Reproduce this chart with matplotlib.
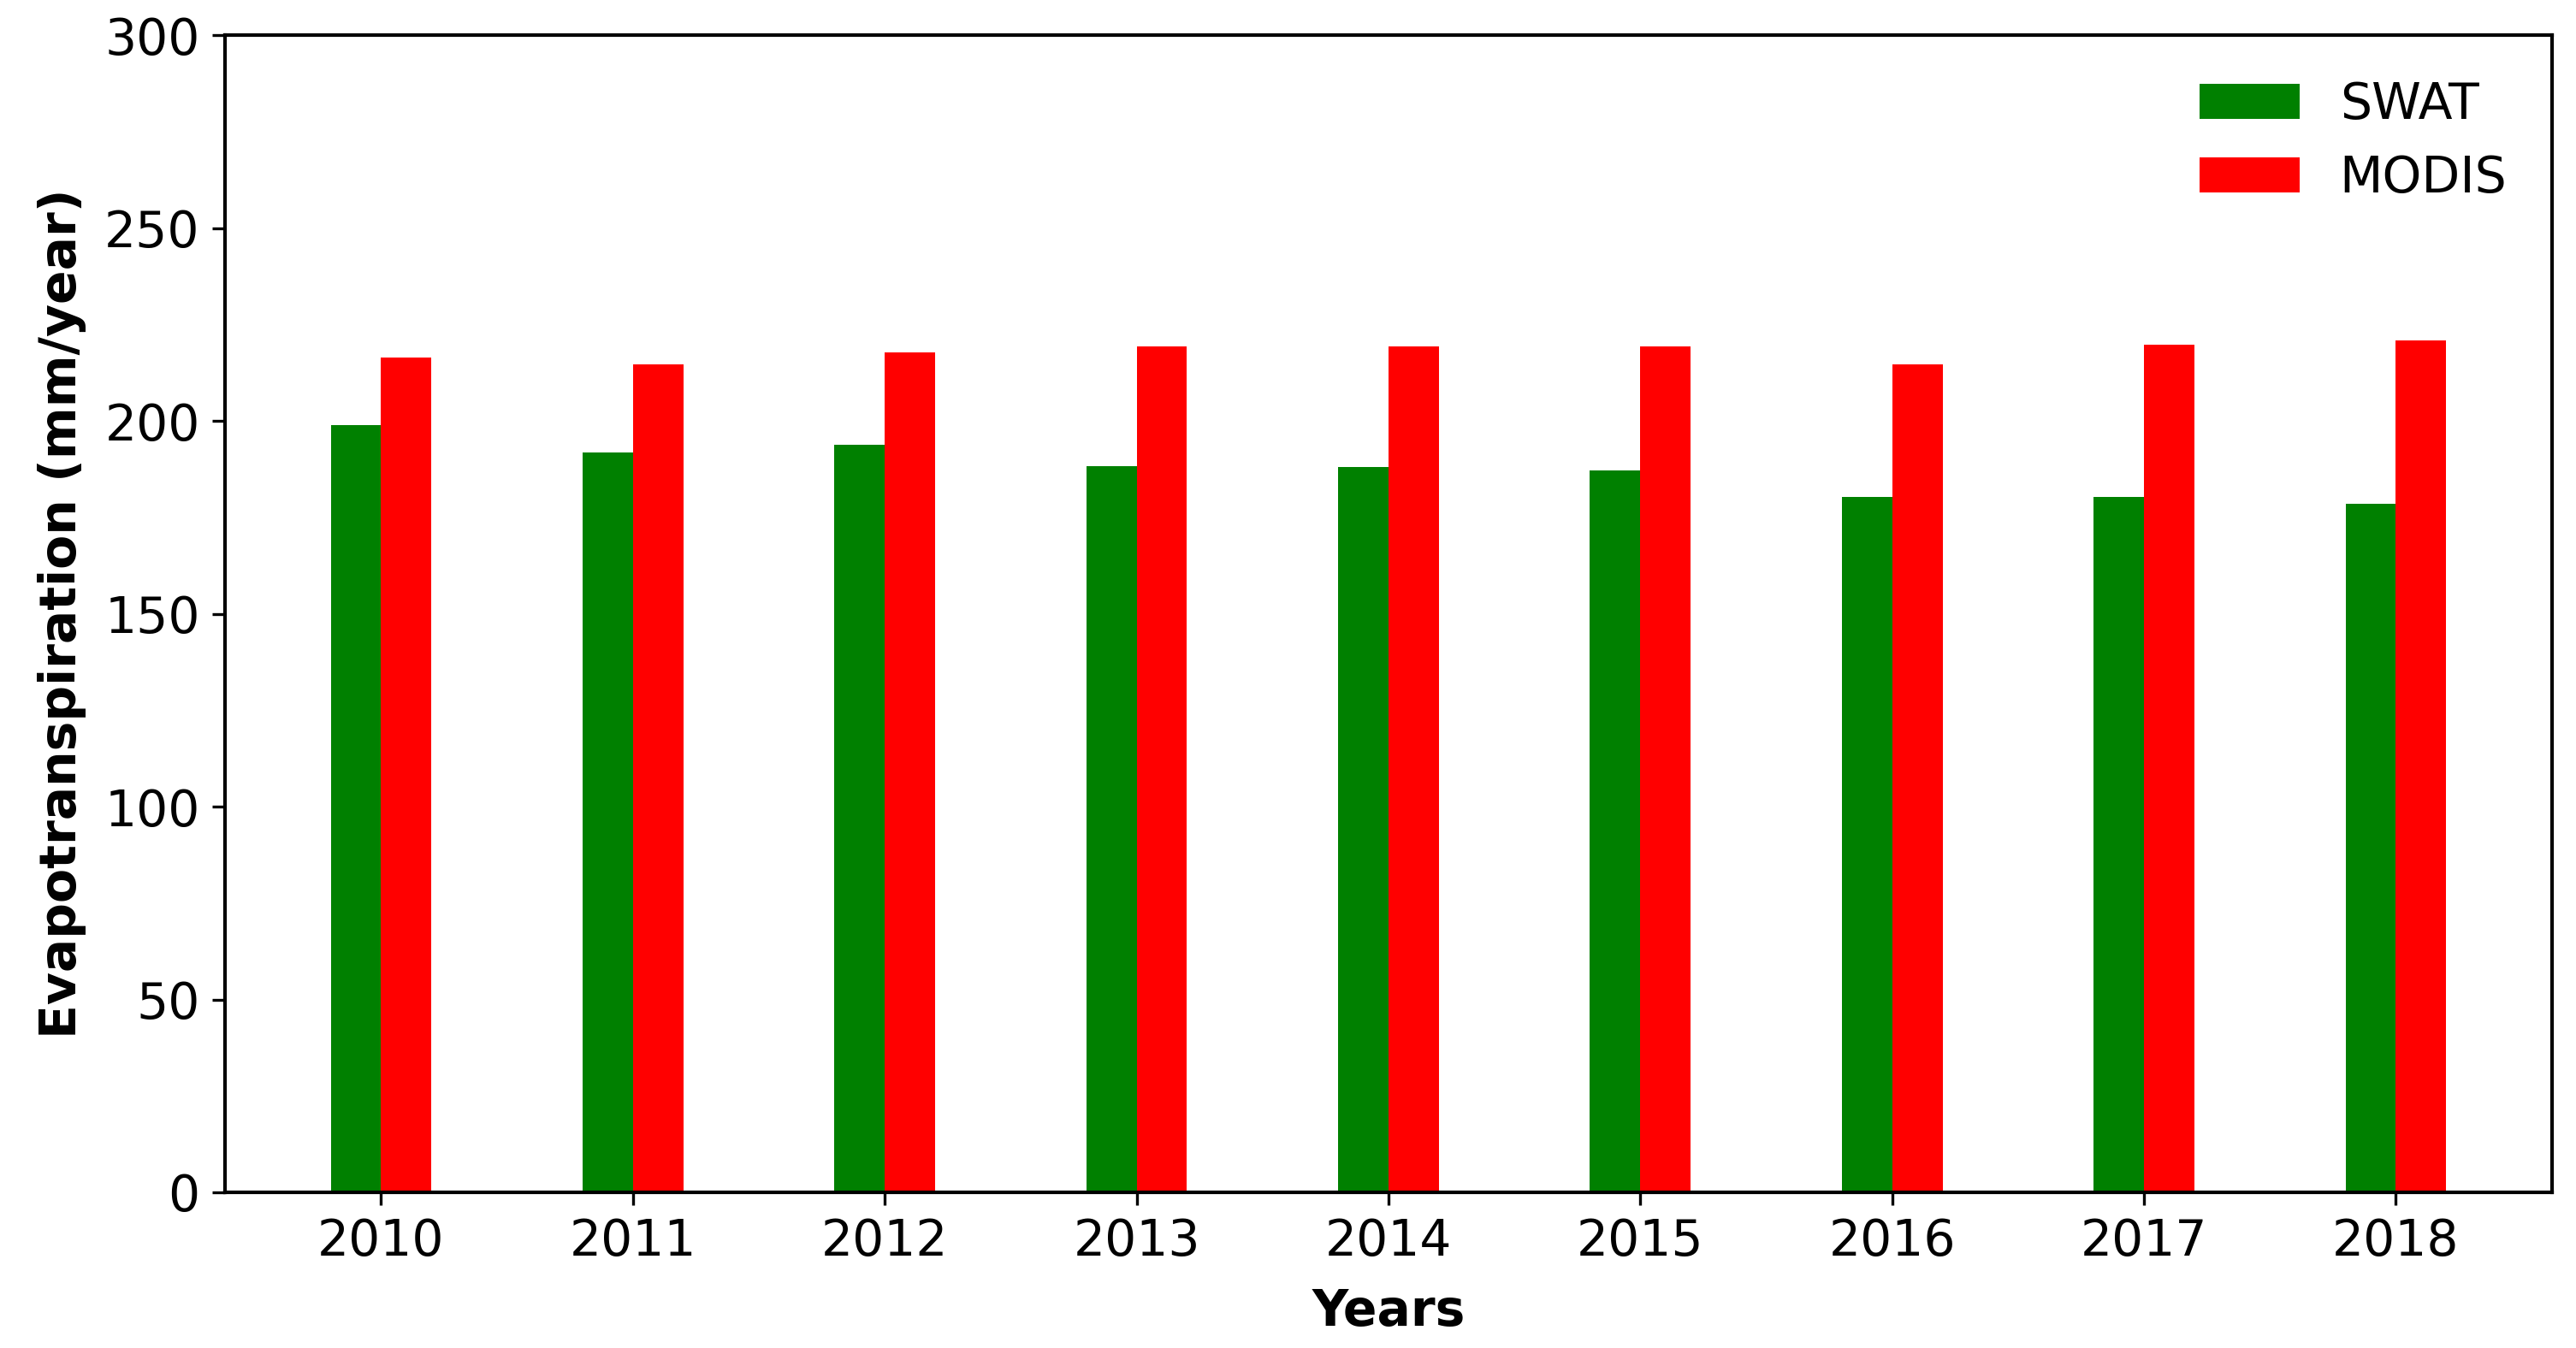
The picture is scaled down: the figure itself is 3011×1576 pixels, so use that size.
import numpy as np
import matplotlib
matplotlib.use("Agg")
import matplotlib.pyplot as plt

# Annual ET values
years = ["2010", "2011", "2012", "2013", "2014", "2015", "2016", "2017", "2018"]
swat = [199.0, 191.9, 193.8, 188.3, 188.1, 187.3, 180.4, 180.3, 178.5]
modis = [216.5, 214.7, 217.8, 219.3, 219.3, 219.3, 214.6, 219.9, 221.0]

plt.rcParams['font.family'] = ['DejaVu Sans']
plt.rcParams['font.size'] = 14

fig = plt.figure(figsize=(3011 / 300, 1576 / 300), dpi=300)
ax = fig.add_axes([0.0873, 0.1155, 0.9034, 0.8582])

x = np.arange(len(years))
w = 0.2
ax.bar(x - w / 2, swat, w, color='green', label='SWAT')
ax.bar(x + w / 2, modis, w, color='red', label='MODIS')

ax.set_xticks(x)
ax.set_xticklabels(years)
ax.set_ylim(0, 300)
ax.set_yticks([0, 50, 100, 150, 200, 250, 300])
ax.set_xlabel('Years', fontweight='bold', labelpad=6)
ax.set_ylabel('Evapotranspiration (mm/year)', fontweight='bold', labelpad=5)
for s in ax.spines.values():
    s.set_linewidth(1.0)
ax.legend(loc='upper right', frameon=False)

fig.savefig('out.png', dpi=300)
